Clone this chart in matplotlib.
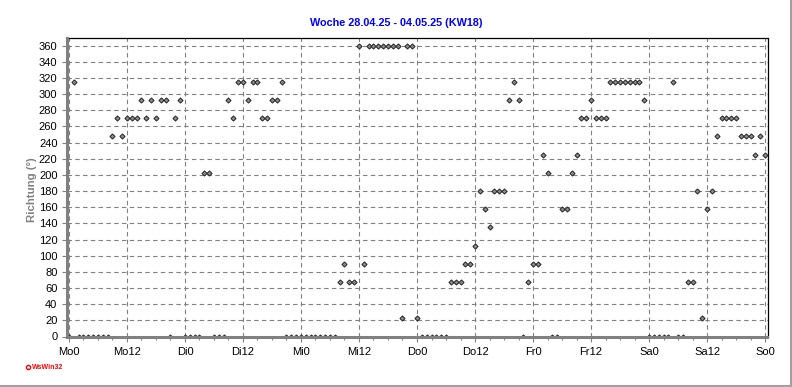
import matplotlib
matplotlib.use('Agg')
import matplotlib.pyplot as plt
from matplotlib.lines import Line2D
import numpy as np

# Hourly wind direction (degrees), one list per day, hour 0..23
mo = [0, 315, 0, 0, 0, 0, 0, 0, 0, 247.5, 270, 247.5, 270, 270, 270, 292.5,
      270, 292.5, 270, 292.5, 292.5, 0, 270, 292.5]
di = [0, 0, 0, 0, 202.5, 202.5, 0, 0, 0, 292.5, 270, 315, 315, 292.5, 315, 315,
      270, 270, 292.5, 292.5, 315, 0, 0, 0]
mi = [0, 0, 0, 0, 0, 0, 0, 0, 67.5, 90, 67.5, 67.5, 360, 90, 360, 360,
      360, 360, 360, 360, 360, 22.5, 360, 360]
do = [22.5, 0, 0, 0, 0, 0, 0, 67.5, 67.5, 67.5, 90, 90, 112.5, 180, 157.5, 135,
      180, 180, 180, 292.5, 315, 292.5, 0, 67.5]
fr = [90, 90, 225, 202.5, 0, 0, 157.5, 157.5, 202.5, 225, 270, 270, 292.5, 270, 270, 270,
      315, 315, 315, 315, 315, 315, 315, 292.5]
sa = [0, 0, 0, 0, 0, 315, 0, 0, 67.5, 67.5, 180, 22.5, 157.5, 180, 247.5, 270,
      270, 270, 270, 247.5, 247.5, 247.5, 225, 247.5]
so = [225]

tick_labels = ['Mo0', 'Mo12', 'Di0', 'Di12', 'Mi0', 'Mi12', 'Do0', 'Do12',
               'Fr0', 'Fr12', 'Sa0', 'Sa12', 'So0']
y_ticks = list(range(0, 361, 20))
title = 'Woche 28.04.25 - 04.05.25 (KW18)'
ylabel = 'Richtung (°)'

direction = mo + di + mi + do + fr + sa + so
hours = np.arange(len(direction))

plt.rcParams['font.family'] = ['Liberation Sans', 'DejaVu Sans']

W, H = 792, 387
fig = plt.figure(figsize=(W / 100, H / 100), dpi=100)
fig.patch.set_facecolor('white')

left_px, right_px, top_px, bot_px = 66.5, 767.5, 37.5, 336.5
ax = fig.add_axes([left_px / W, (H - bot_px) / H,
                   (right_px - left_px) / W, (bot_px - top_px) / H])

ax.plot(hours, direction, linestyle='none', marker='D', ms=2.6,
        mfc='#8c8c8c', mec='#2a2a2a', mew=0.75, zorder=3, clip_on=True)

ax.set_xlim(-0.5, 144.5)
ax.set_ylim(0, 370)
ax.set_xticks(np.arange(0, 145, 12))
ax.set_xticklabels(tick_labels)
ax.set_xticks(np.arange(0, 145, 3), minor=True)
ax.set_yticks(y_ticks)

ax.grid(True, which='major', linestyle=(0, (4, 3)), color='#808080', linewidth=0.8)
ax.set_axisbelow(True)

for s in ['left', 'bottom']:
    ax.spines[s].set_color('#808080')
    ax.spines[s].set_linewidth(2.2)
    ax.spines[s].set_zorder(4)
for s in ['top', 'right']:
    ax.spines[s].set_color('black')
    ax.spines[s].set_linewidth(0.9)

ax.tick_params(which='major', direction='out', length=3.5, width=0.8,
               color='#808080', labelsize=8, pad=3)
ax.tick_params(which='minor', direction='out', length=2.2, width=0.8,
               color='#808080')
ax.tick_params(axis='x', which='major', pad=4)

fig.text(0.5, (H - 23) / H, title, ha='center', va='center',
         color='#0000ff', fontweight='bold', fontsize=7.8)
fig.text(32 / W, (H - 190) / H, ylabel, ha='center', va='center', rotation=90,
         color='#808080', fontweight='bold', fontsize=8.2)

# WsWin32 mark
fig.add_artist(Line2D([28 / W], [(H - 367) / H], transform=fig.transFigure,
                      marker='o', ms=3, mfc='white', mec='red', mew=1.0,
                      linestyle='none'))
fig.text(32 / W, (H - 367.5) / H, 'WsWin32', ha='left', va='center',
         color='red', fontweight='bold', fontsize=5)

# figure border (right & bottom)
fig.add_artist(Line2D([(W - 1.5) / W, (W - 1.5) / W], [0, 1],
                      transform=fig.transFigure, color='#a0a0a0', lw=1.5))
fig.add_artist(Line2D([0, 1], [1.5 / H, 1.5 / H],
                      transform=fig.transFigure, color='#a0a0a0', lw=1.5))

fig.savefig('out.png', dpi=100)
